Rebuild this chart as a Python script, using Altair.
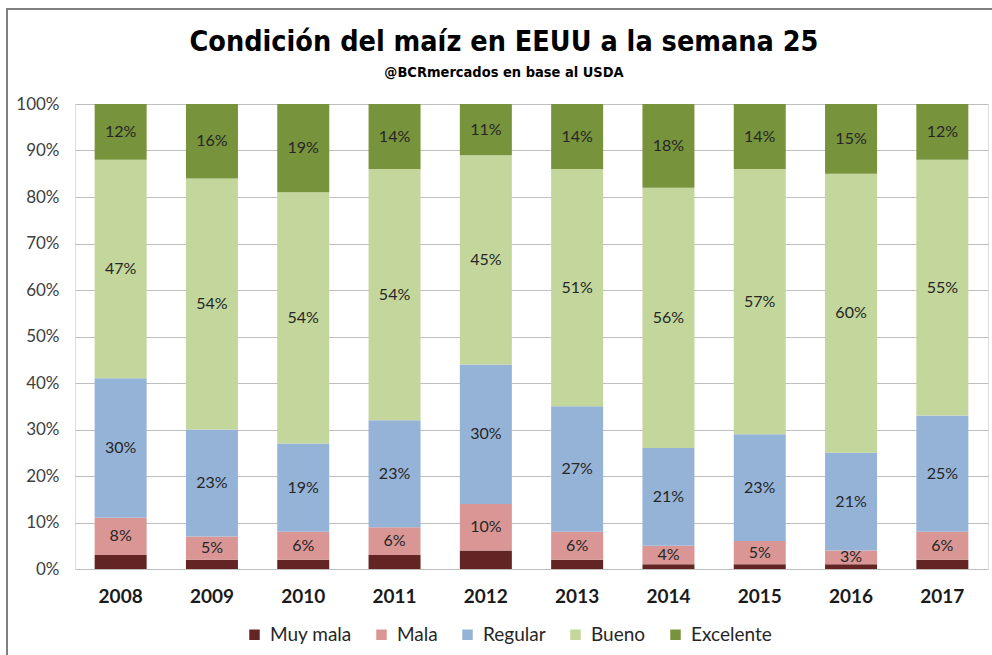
import altair as alt
import pandas as pd

years = ["2008", "2009", "2010", "2011", "2012", "2013", "2014", "2015", "2016", "2017"]
categories = ["Muy mala", "Mala", "Regular", "Bueno", "Excelente"]
muy_mala = [3, 2, 2, 3, 4, 2, 1, 1, 1, 2]
mala = [8, 5, 6, 6, 10, 6, 4, 5, 3, 6]
regular = [30, 23, 19, 23, 30, 27, 21, 23, 21, 25]
bueno = [47, 54, 54, 54, 45, 51, 56, 57, 60, 55]
excelente = [12, 16, 19, 14, 11, 14, 18, 14, 15, 12]
colors = ["#632523", "#d99694", "#95b3d7", "#c3d69b", "#77933c"]
title_text = ["Condición del maíz en EEUU a la semana 25"]
subtitle_text = ["@BCRmercados en base al USDA"]

series = [muy_mala, mala, regular, bueno, excelente]
rows = []
for ci, (cat, vals) in enumerate(zip(categories, series)):
    for y, v in zip(years, vals):
        rows.append({"year": y, "cat": cat, "pct": v, "order": ci})
df = pd.DataFrame(rows)

W, H = 913, 465
TFONT = "'DejaVu Sans Condensed', Roboto, sans-serif"

base = alt.Chart(df).transform_stack(
    stack="pct", groupby=["year"], as_=["y0", "y1"],
    sort=[alt.SortField("order", order="ascending")]
).transform_calculate(mid="(datum.y0 + datum.y1) / 2")

xenc = alt.X("year:N", sort=years, title=None,
             scale=alt.Scale(paddingInner=0.43, paddingOuter=0.215),
             axis=alt.Axis(labelFont="Lato", labelFontWeight="bold", labelFontSize=19,
                           labelColor="#1a1a1a", labelPadding=18, ticks=False,
                           domain=False, labelAngle=0))

bars = base.mark_bar(size=52).encode(
    x=xenc,
    y=alt.Y("y0:Q", title=None, scale=alt.Scale(domain=[0, 100], nice=False),
            axis=alt.Axis(values=list(range(0, 101, 10)), labelExpr="datum.value + '%'",
                          labelFont="Lato", labelFontSize=17, labelColor="#404040",
                          labelPadding=16, ticks=False, domain=False,
                          gridColor="#bfbfbf", gridWidth=1.2)),
    y2="y1:Q",
    color=alt.Color("cat:N", title=None,
                    scale=alt.Scale(domain=categories, range=colors),
                    legend=alt.Legend(orient="none", legendX=170, legendY=521,
                                      direction="horizontal", symbolType="square",
                                      symbolSize=110, symbolStrokeWidth=0,
                                      labelFont="Lato", labelFontSize=19,
                                      labelColor="#262626", columnPadding=20,
                                      labelOffset=6)),
)

labels = base.transform_filter("datum.cat != 'Muy mala'").mark_text(
    font="Lato", fontSize=16, color="#262626"
).encode(
    x=alt.X("year:N", sort=years),
    y=alt.Y("mid:Q"),
    text=alt.Text("label:N"),
).transform_calculate(label="datum.pct + '%'")

frame = alt.Chart(df).mark_rect(fill=None, stroke="#7f7f7f", strokeWidth=2).encode(
    x=alt.value(-68), x2=alt.value(W + 20), y=alt.value(-95), y2=alt.value(H + 120)
)

title = alt.Chart(pd.DataFrame({"t": title_text})).mark_text(
    font=TFONT, fontSize=28.5, fontWeight="bold", color="#000000",
    align="center", baseline="middle"
).encode(text="t:N", x=alt.value(429), y=alt.value(-62))

subtitle = alt.Chart(pd.DataFrame({"t": subtitle_text})).mark_text(
    font=TFONT, fontSize=14.5, fontWeight="bold", color="#000000",
    align="center", baseline="middle"
).encode(text="t:N", x=alt.value(429), y=alt.value(-31))

chart = alt.layer(frame, bars, labels, title, subtitle).properties(
    width=W, height=H,
    autosize=alt.AutoSizeParams(type="none"),
    padding={"left": 75, "top": 104, "right": 4, "bottom": 86},
).configure_view(stroke=None).configure(background="white")

chart.save("out.html", embed_options={"renderer": "svg", "actions": False})
